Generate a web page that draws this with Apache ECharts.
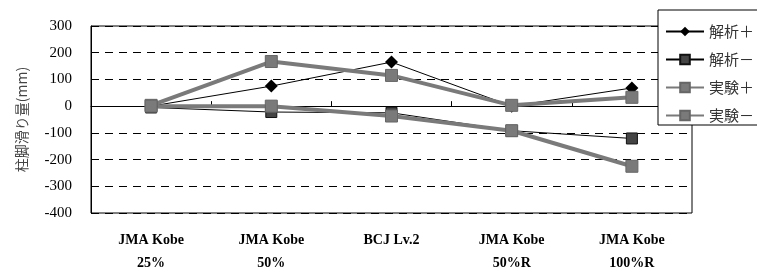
<!DOCTYPE html>
<html><head><meta charset="utf-8">
<script src="https://cdn.jsdelivr.net/npm/echarts@6/dist/echarts.min.js"></script>
<style>html,body{margin:0;padding:0;background:#fff}#c{width:757px;height:270px}</style>
</head><body><div id="c"></div>
<script>
const categories = ['JMA Kobe\n25%', 'JMA Kobe\n50%', 'BCJ Lv.2', 'JMA Kobe\n50%R', 'JMA Kobe\n100%R'];
const seriesNames = ['解析＋', '解析－', '実験＋', '実験－'];
const analysisPlus = [0, 75, 165, 0, 68];
const analysisMinus = [-5, -22, -25, -92, -121];
const expPlus = [3, 167, 115, 3, 33];
const expMinus = [0, 0, -37, -92, -225];
const yTicks = {min: -400, max: 300, interval: 100};
const yName = '柱脚滑り量(mm)';

const serif = '"Liberation Serif","Times New Roman",serif';
const cjk = '"Noto Sans CJK JP","Noto Sans CJK SC",sans-serif';
const gray = '#7a7a7a';

const chart = echarts.init(document.getElementById('c'));
chart.setOption({
  animation: false,
  grid: {left: 91, right: 65, top: 26, bottom: 57, show: true, borderColor: '#000', borderWidth: 1,
         backgroundColor: 'transparent', containLabel: false, outerBoundsMode: 'none'},
  legend: {
    orient: 'vertical', left: 658, top: 10,
    data: seriesNames,
    itemWidth: 38, itemHeight: 12, itemGap: 13,
    padding: [14, 10, 2, 7],
    borderColor: '#000', borderWidth: 1, backgroundColor: '#fff',
    textStyle: {fontFamily: cjk, fontSize: 15, color: '#333', lineHeight: 14}
  },
  xAxis: {
    type: 'category', data: categories, boundaryGap: true,
    axisLine: {lineStyle: {color: '#000', width: 1}},
    axisTick: {show: true, inside: true, length: 5, lineStyle: {color: '#000'}},
    axisLabel: {fontFamily: serif, fontWeight: 'bold', fontSize: 14, color: '#000', margin: 16, lineHeight: 23, interval: 0},
    splitLine: {show: false}
  },
  yAxis: {
    type: 'value', min: yTicks.min, max: yTicks.max, interval: yTicks.interval,
    name: yName, nameLocation: 'middle', nameGap: 62, nameRotate: 90,
    nameTextStyle: {fontFamily: cjk, fontSize: 14, color: '#444'},
    axisLine: {show: true, lineStyle: {color: '#000', width: 1}},
    axisTick: {show: false},
    axisLabel: {fontFamily: serif, fontSize: 15, color: '#000', margin: 19},
    splitLine: {show: true, lineStyle: {color: '#000', type: [8, 6], width: 1}}
  },
  series: [
    {name: seriesNames[0], type: 'line', data: analysisPlus, symbol: 'diamond', symbolSize: [13, 13],
     lineStyle: {color: '#000', width: 1}, itemStyle: {color: '#000'}},
    {name: seriesNames[1], type: 'line', data: analysisMinus, symbol: 'rect', symbolSize: 11,
     lineStyle: {color: '#000', width: 1}, itemStyle: {color: '#444', borderColor: '#111', borderWidth: 1}},
    {name: seriesNames[2], type: 'line', data: expPlus, symbol: 'rect', symbolSize: 12,
     lineStyle: {color: gray, width: 4}, itemStyle: {color: gray, borderColor: '#666', borderWidth: 1}},
    {name: seriesNames[3], type: 'line', data: expMinus, symbol: 'rect', symbolSize: 12,
     lineStyle: {color: gray, width: 4}, itemStyle: {color: gray, borderColor: '#666', borderWidth: 1}}
  ]
});
</script></body></html>
